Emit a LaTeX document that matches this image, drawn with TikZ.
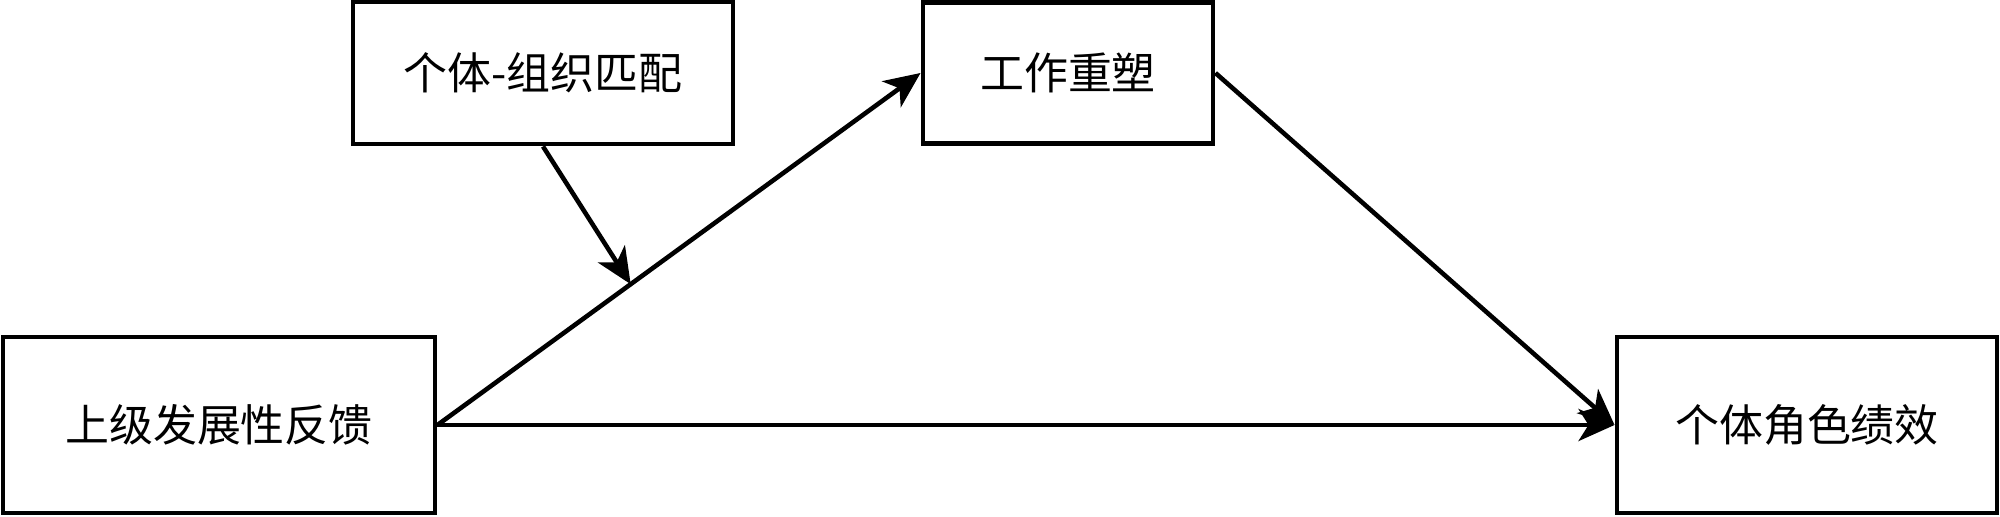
\documentclass[tikz,border=0pt]{standalone}
\usepackage{fontspec}
\newfontfamily\cjk{Noto Sans CJK SC}
\usepackage{tikz}
\usetikzlibrary{arrows.meta}

\begin{document}
\begin{tikzpicture}[
          box/.style={rectangle, draw=black, line width=1.4pt, fill=white,
              font=\cjk\fontsize{12.5}{15}\selectfont, align=center,
              inner sep=0pt},
          arr/.style={-{Stealth[length=3.6mm, width=3.2mm, inset=1mm]},
              line width=1.3pt, black}
        ]
        \useasboundingbox (0,0) rectangle (20,5.17);
        \node[box, minimum width=4.32cm, minimum height=1.76cm] (fb)   at (2.19,0.92)  {上级发展性反馈};
        \node[box, minimum width=3.80cm, minimum height=1.42cm] (fit)  at (5.43,4.44)  {个体-组织匹配};
        \node[box, minimum width=2.90cm, minimum height=1.41cm] (jc)   at (10.68,4.44) {工作重塑};
        \node[box, minimum width=3.80cm, minimum height=1.76cm] (perf) at (18.07,0.92) {个体角色绩效};
        \draw[arr] (fb.east) -- coordinate[pos=0.4] (mod) (jc.west);
        \draw[arr] (jc.east) -- (perf.west);
        \draw[arr] (fb.east) -- (perf.west);
        \draw[arr] (fit.south) -- (mod);
      \end{tikzpicture}
\end{document}
